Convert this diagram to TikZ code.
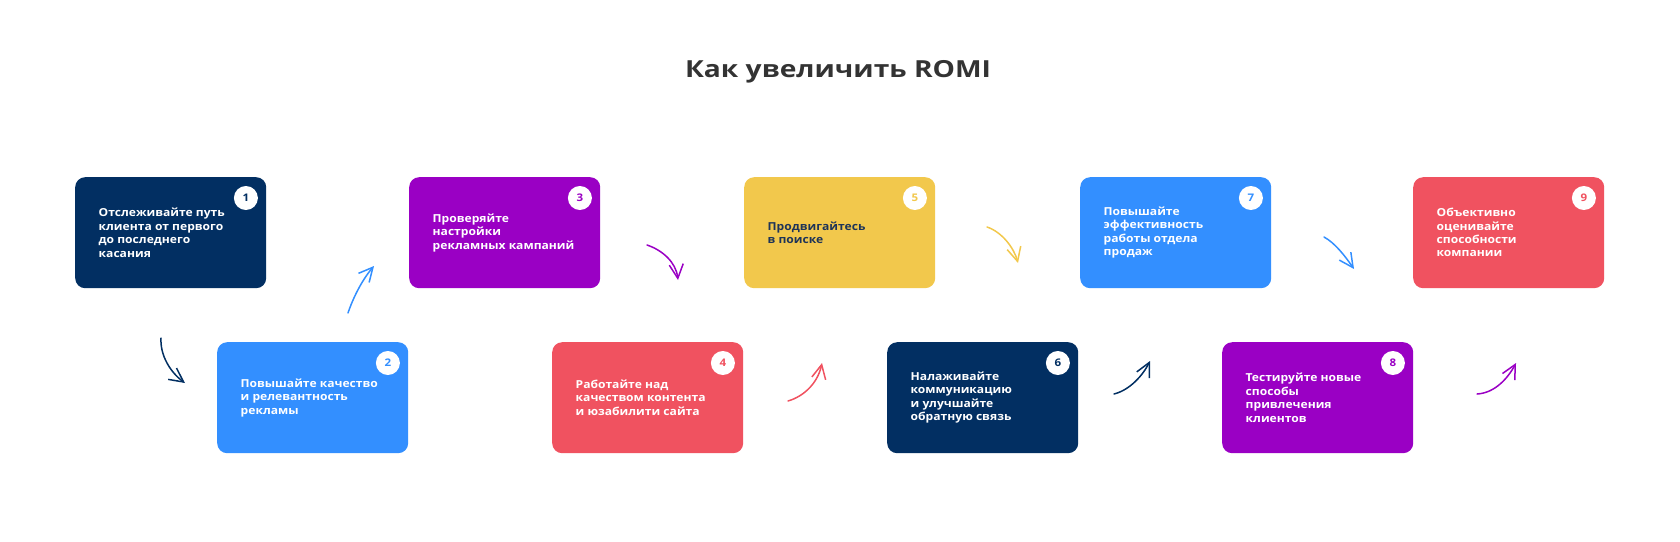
\documentclass[tikz,border=0pt]{standalone}
\usepackage{fontspec}
\setmainfont{Open Sans}
\newfontfamily\cardfont{Open Sans}[FakeStretch=1.1]
\newfontfamily\titlefont{Open Sans}[FakeStretch=1.2]
\usetikzlibrary{arrows.meta,calc}
\definecolor{cnavy}{RGB}{2,47,98}
\definecolor{cblue}{RGB}{51,143,255}
\definecolor{cpurple}{RGB}{154,0,196}
\definecolor{cred}{RGB}{240,82,96}
\definecolor{cyellow}{RGB}{242,200,76}
\definecolor{cytext}{RGB}{30,52,88}
\definecolor{ctitle}{RGB}{51,51,51}
\tikzset{
  card/.style={fill=#1, draw=none, rounded corners=10pt, minimum width=191pt, minimum height=111pt, inner sep=0pt, anchor=north west},
  cardtext/.style={text=#1, anchor=west, align=left, inner sep=0pt, font=\cardfont\bfseries\fontsize{11}{13.4}\selectfont},
  numc/.style={fill=white, circle, minimum size=24pt, inner sep=0pt, text=#1, font=\cardfont\bfseries\fontsize{10.5}{11}\selectfont},
  arr/.style={draw=#1, line width=1.5pt, line cap=round, -{Straight Barb[length=14pt,width=14pt,line width=1.5pt]}},
}
\begin{document}
\begin{tikzpicture}[x=1pt,y=-1pt]
\useasboundingbox (0,0) rectangle (1680,541);
\node[text=ctitle, anchor=base, font=\titlefont\bfseries\fontsize{23.5}{28}\selectfont] (title) at (838,77) {Как увеличить ROMI};
% cards
\node[card=cnavy] (b1) at (75,177) {};
\node[card=cblue] (b2) at (217,342) {};
\node[card=cpurple] (b3) at (409,177) {};
\node[card=cred] (b4) at (552,342) {};
\node[card=cyellow] (b5) at (744,177) {};
\node[card=cnavy] (b6) at (887,342) {};
\node[card=cblue] (b7) at (1080,177) {};
\node[card=cpurple] (b8) at (1222,342) {};
\node[card=cred] (b9) at (1413,177) {};
% numbers
\node[numc=cnavy] (n1) at ($(b1.north east)+(-20.5,21)$) {1};
\node[numc=cblue] (n2) at ($(b2.north east)+(-20.5,21)$) {2};
\node[numc=cpurple] (n3) at ($(b3.north east)+(-20.5,21)$) {3};
\node[numc=cred] (n4) at ($(b4.north east)+(-20.5,21)$) {4};
\node[numc=cyellow] (n5) at ($(b5.north east)+(-20.5,21)$) {5};
\node[numc=cnavy] (n6) at ($(b6.north east)+(-20.5,21)$) {6};
\node[numc=cblue] (n7) at ($(b7.north east)+(-20.5,21)$) {7};
\node[numc=cpurple] (n8) at ($(b8.north east)+(-20.5,21)$) {8};
\node[numc=cred] (n9) at ($(b9.north east)+(-20.5,21)$) {9};
% texts
\node[cardtext=white] (t1) at ($(b1.west)+(23.5,0)$) {Отслеживайте путь\\клиента от первого\\до последнего\\касания};
\node[cardtext=white] (t2) at ($(b2.west)+(23.5,0)$) {Повышайте качество\\и релевантность\\рекламы};
\node[cardtext=white] (t3) at ($(b3.west)+(23.5,0)$) {Проверяйте\\настройки\\рекламных кампаний};
\node[cardtext=white] (t4) at ($(b4.west)+(23.5,0)$) {Работайте над\\качеством контента\\и юзабилити сайта};
\node[cardtext=cytext] (t5) at ($(b5.west)+(23.5,0)$) {Продвигайтесь\\в поиске};
\node[cardtext=white] (t6) at ($(b6.west)+(23.5,0)$) {Налаживайте\\коммуникацию\\и улучшайте\\обратную связь};
\node[cardtext=white] (t7) at ($(b7.west)+(23.5,0)$) {Повышайте\\эффективность\\работы отдела\\продаж};
\node[cardtext=white] (t8) at ($(b8.west)+(23.5,0)$) {Тестируйте новые\\способы\\привлечения\\клиентов};
\node[cardtext=white] (t9) at ($(b9.west)+(23.5,0)$) {Объективно\\оценивайте\\способности\\компании};
% arrow end points
\coordinate (a1s) at (161,338); \coordinate (a1e) at (185,383);
\coordinate (a2s) at (348,313); \coordinate (a2e) at (374,266);
\coordinate (a3s) at (647,245); \coordinate (a3e) at (678,280);
\coordinate (a4s) at (788,401); \coordinate (a4e) at (822,363);
\coordinate (a5s) at (987,227); \coordinate (a5e) at (1018,263);
\coordinate (a6s) at (1114,394); \coordinate (a6e) at (1150,361);
\coordinate (a7s) at (1324,237); \coordinate (a7e) at (1354,269);
\coordinate (a8s) at (1477,394); \coordinate (a8e) at (1516,363);
% arrows
\draw[arr=cnavy] (a1s) .. controls (160,355) and (170,372) .. (a1e);
\draw[arr=cblue] (a2s) .. controls (353,298) and (362,280) .. (a2e);
\draw[arr=cpurple] (a3s) .. controls (662,250) and (676,262) .. (a3e);
\draw[arr=cred] (a4s) .. controls (805,396) and (818,382) .. (a4e);
\draw[arr=cyellow] (a5s) .. controls (1002,232) and (1014,248) .. (a5e);
\draw[arr=cnavy] (a6s) .. controls (1130,390) and (1143,375) .. (a6e);
\draw[arr=cblue] (a7s) .. controls (1335,243) and (1345,256) .. (a7e);
\draw[arr=cpurple] (a8s) .. controls (1495,393) and (1508,378) .. (a8e);
\end{tikzpicture}
\end{document}
